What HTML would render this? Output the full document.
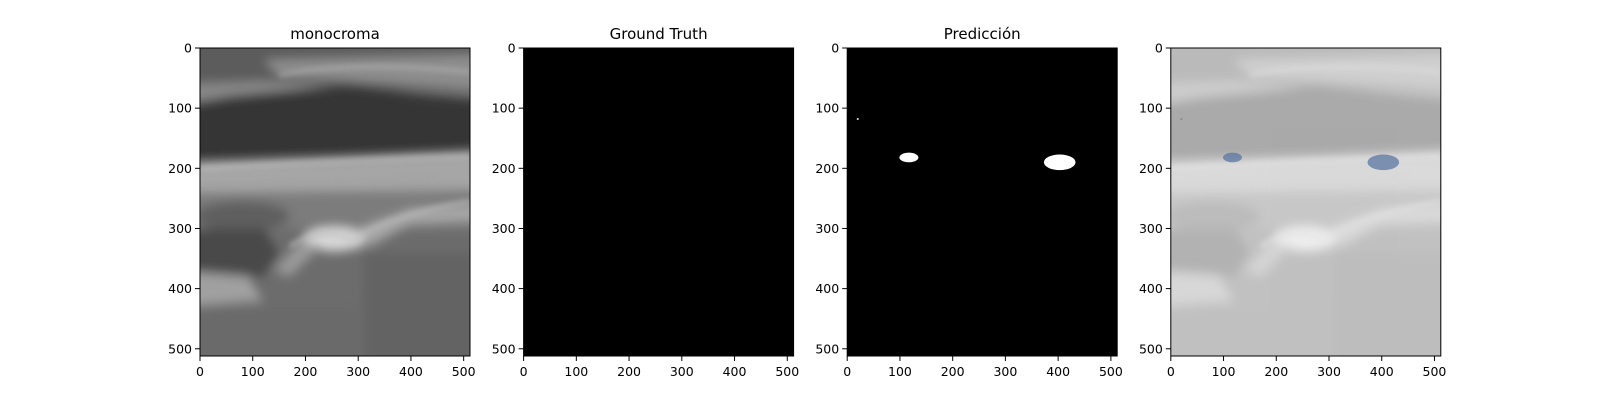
<!DOCTYPE html>
<html><head><meta charset="utf-8">
<style>
html,body{margin:0;padding:0;background:#fff;}
svg text{font-family:"DejaVu Sans","Liberation Sans",sans-serif;fill:#000;}
</style></head>
<body>
<svg id="fig" xmlns="http://www.w3.org/2000/svg" width="1600" height="400" viewBox="0 0 1600 400">
<defs>
  <filter id="blur" filterUnits="userSpaceOnUse" x="-100" y="-100" width="712" height="712"><feGaussianBlur stdDeviation="9"/></filter>
  <filter id="blur2" filterUnits="userSpaceOnUse" x="-100" y="-100" width="712" height="712"><feGaussianBlur stdDeviation="5"/></filter>
  <clipPath id="sq"><rect x="0" y="0" width="512" height="512"/></clipPath>
  <g id="us">
    <g clip-path="url(#sq)">
    <rect x="-20" y="-20" width="552" height="552" fill="#6c6c6c"/>
    <g filter="url(#blur)">
      <rect x="-40" y="-40" width="592" height="110" fill="#5c5c5c"/>
      <path d="M120,20 L552,10 L552,70 L300,55 L150,45 Z" fill="#8e8e8e"/>
      <path d="M-40,60 L120,55 L250,62 L-40,95 Z" fill="#888"/>
      <path d="M-40,95 L60,80 L280,62 L420,78 L552,88 L552,175 L300,182 L-40,192 Z" fill="#343434"/>
      <path d="M-40,192 L300,182 L552,172 L552,240 L300,240 L-40,240 Z" fill="#a6a6a6"/>
      <path d="M-40,240 L552,235 L552,300 L-40,300 Z" fill="#7c7c7c"/>
      <ellipse cx="80" cy="280" rx="90" ry="25" fill="#5e5e5e"/>
      <path d="M-40,300 L120,300 L150,340 L120,380 L-40,370 Z" fill="#4a4a4a"/>
      <path d="M-40,370 L90,380 L120,420 L-40,430 Z" fill="#a0a0a0"/>
      <ellipse cx="255" cy="318" rx="60" ry="20" fill="#d8d8d8"/>
      <path d="M300,300 L400,268 L552,258 L552,285 L400,292 L320,330 Z" fill="#a8a8a8"/>
      <path d="M140,370 L190,320 L230,330 L170,380 Z" fill="#999"/>
      <rect x="310" y="340" width="260" height="220" fill="#646464"/>
      <rect x="-40" y="430" width="340" height="120" fill="#6a6a6a"/>
    </g>
    <g filter="url(#blur2)" opacity="0.6">
      <path d="M150,45 Q300,20 512,40" stroke="#bbb" stroke-width="6" fill="none"/>
      <path d="M0,200 Q200,190 512,180" stroke="#c8c8c8" stroke-width="8" fill="none"/>
      <path d="M0,230 Q200,220 450,215" stroke="#a0a0a0" stroke-width="5" fill="none"/>
      <path d="M170,330 Q230,295 290,320 Q350,280 512,255" stroke="#c0c0c0" stroke-width="8" fill="none"/>
    </g>
    </g>
  </g>
</defs>
<g id="panels"></g>
</svg>
<script>
const panelTitles = ["monocroma", "Ground Truth", "Predicción", ""];
const xTicks = [0, 100, 200, 300, 400, 500];
const yTicks = [0, 100, 200, 300, 400, 500];
const imgSize = 512;
// predicted blobs in image coords: [cx, cy, rx, ry]
const blobCx = [20, 117, 403];
const blobCy = [118, 182, 190];
const blobRx = [2, 18, 30];
const blobRy = [1.5, 8, 13];

const NS = "http://www.w3.org/2000/svg";
const root = document.getElementById('panels');
const L0 = 200, STEP = 323.6, W = 270, T = 48, H = 308;
function mk(tag, attrs, parent){const e=document.createElementNS(NS,tag);for(const k in attrs)e.setAttribute(k,attrs[k]);parent.appendChild(e);return e;}

for (let p = 0; p < 4; p++) {
  const left = L0 + p * STEP;
  const sx = v => left + v / imgSize * W;
  const sy = v => T + v / imgSize * H;
  const g = mk('g', {}, root);
  
  
  const img = mk('svg', {x: left, y: T, width: W, height: H, viewBox: '0 0 512 512', preserveAspectRatio: 'none'}, g);
  
  
  if (p === 0) {
    mk('use', {href: '#us'}, img);
  } else if (p === 3) {
    mk('rect', {x: 0, y: 0, width: 512, height: 512, fill: '#fff'}, img);
    mk('use', {href: '#us', opacity: 0.42}, img);
  } else {
    mk('rect', {x: 0, y: 0, width: 512, height: 512, fill: '#000'}, img);
  }
  if (p === 2 || p === 3) {
    for (let i = 0; i < blobCx.length; i++) {
      const b = mk('ellipse', {cx: blobCx[i], cy: blobCy[i], rx: blobRx[i], ry: blobRy[i],
        fill: p === 2 ? '#fff' : '#5b76a3', 'fill-opacity': p === 2 ? 1 : 0.75}, img);
      
      
    }
  }
  const fr = mk('rect', {x: left, y: T, width: W, height: H, fill: 'none', stroke: '#000', 'stroke-width': 1}, g);
  
  
  xTicks.forEach(v => {
    const x = sx(v);
    mk('line', {x1: x, x2: x, y1: T + H, y2: T + H + 5, stroke: '#000', 'stroke-width': 1}, g);
    const t = mk('text', {x: x, y: T + H + 20, 'text-anchor': 'middle', 'font-size': 12.5}, g);
    t.textContent = v;
    
    
  });
  yTicks.forEach(v => {
    const y = sy(v);
    mk('line', {x1: left - 5, x2: left, y1: y, y2: y, stroke: '#000', 'stroke-width': 1}, g);
    const t = mk('text', {x: left - 8, y: y + 4.5, 'text-anchor': 'end', 'font-size': 12.5}, g);
    t.textContent = v;
    
    
  });
  if (panelTitles[p]) {
    const tt = mk('text', {x: left + W / 2, y: T - 9, 'text-anchor': 'middle', 'font-size': 15}, g);
    tt.textContent = panelTitles[p];
    
    
  }
}
</script>
</body></html>
